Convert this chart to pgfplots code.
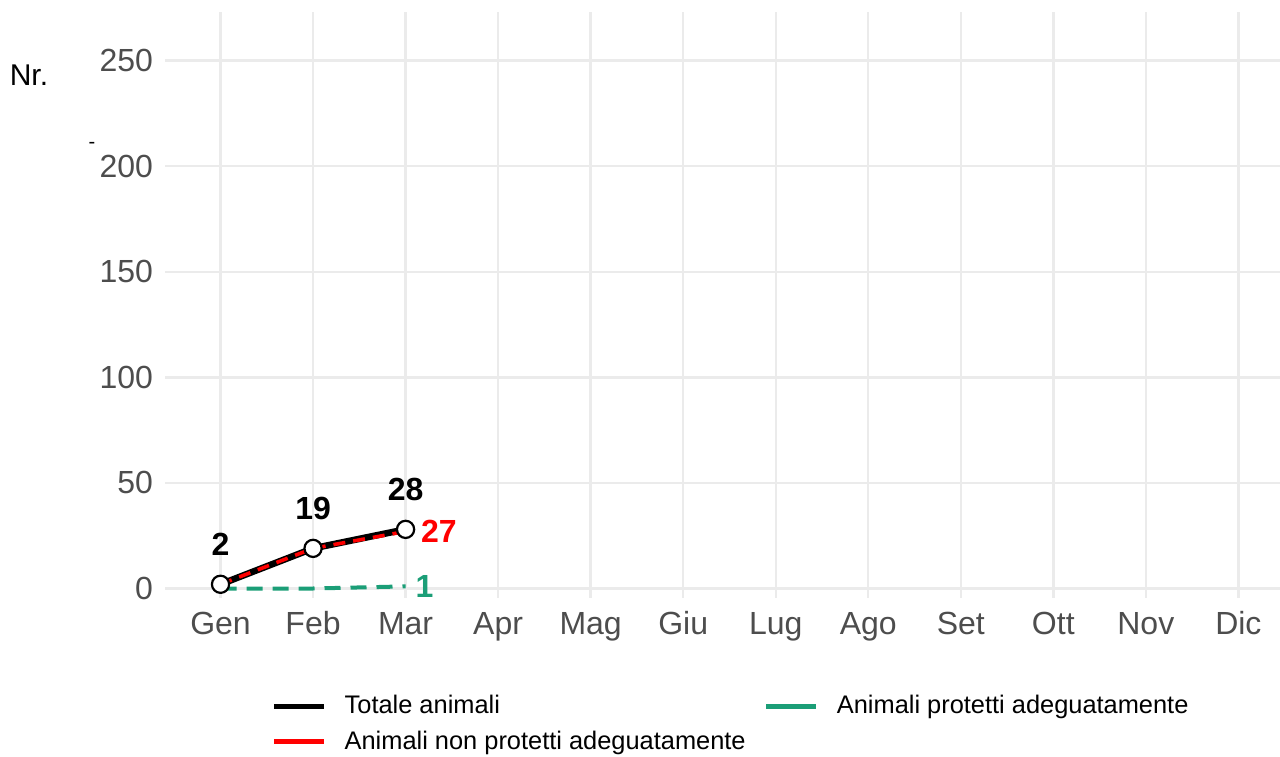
\documentclass[border=0pt]{standalone}
\usepackage{fontspec}
\setmainfont{Liberation Sans}
\usepackage{pgfplots}
\pgfplotsset{compat=1.18}
\definecolor{gridc}{HTML}{EBEBEB}
\definecolor{tickc}{HTML}{4D4D4D}
\definecolor{greenc}{HTML}{1B9E77}
\definecolor{redc}{HTML}{FF0000}
\begin{document}
\begin{tikzpicture}
\useasboundingbox (0,0) rectangle (640pt,378pt);
\begin{axis}[
  at={(82.5pt,79pt)}, anchor=south west,
  scale only axis, width=557.5pt, height=293pt,
  xmin=0.4, xmax=12.45, ymin=-4.5, ymax=273,
  xtick={1,...,12},
  xticklabels={Gen,Feb,Mar,Apr,Mag,Giu,Lug,Ago,Set,Ott,Nov,Dic},
  ytick={0,50,100,150,200,250},
  axis line style={draw=none}, major tick length=0pt,
  grid=major, grid style={gridc, line width=1.2pt},
  tick label style={font=\fontsize{16}{18}\selectfont, text=tickc},
  xticklabel style={text height=11.5pt, text depth=3pt, yshift=-3pt},
  yticklabel style={xshift=-2.5pt},
  /pgf/number format/assume math mode=true,
  legend columns=2,
  legend cell align=left,
  legend style={at={(0.5085,-0.152)}, anchor=north, draw=none, fill=none,
    font=\fontsize{12.7}{14}\selectfont, row sep=3pt,
    /tikz/every odd column/.append style={column sep=7pt},
    /tikz/every even column/.append style={column sep=7pt}},
  legend image code/.code={\draw[#1] (0pt,0pt) -- (25pt,0pt);},
  clip=false,
]
\addlegendimage{black, line width=2.6pt}
\addlegendentry{Totale animali}
\addlegendimage{greenc, line width=2.6pt}
\addlegendentry{Animali protetti adeguatamente}
\addlegendimage{redc, line width=2.6pt}
\addlegendentry{Animali non protetti adeguatamente}

% Animali protetti adeguatamente
\addplot[forget plot, greenc, line width=2pt, dash pattern=on 8pt off 5pt, mark=none]
  coordinates {(1,0) (2,0) (3,1)};
% Totale animali
\addplot[forget plot, black, line width=3.3pt, mark=none]
  coordinates {(1,2) (2,19) (3,28)};
% Animali non protetti adeguatamente
\addplot[forget plot, redc, line width=1.8pt, dash pattern=on 6pt off 4pt, mark=none]
  coordinates {(1,2) (2,19) (3,27)};
% markers + labels for total
\addplot[forget plot, only marks, mark=*, mark size=4.3pt,
  mark options={fill=white, draw=black, line width=1.1pt},
  nodes near coords, point meta=y,
  nodes near coords style={font=\bfseries\fontsize{16}{18}\selectfont, text=black, anchor=center, yshift=20pt}]
  coordinates {(1,2) (2,19) (3,28)};
% end labels
\addplot[forget plot, draw=none, mark=none, nodes near coords, point meta=y,
  nodes near coords style={font=\bfseries\fontsize{16}{18}\selectfont, text=redc, anchor=west, xshift=4.2pt}]
  coordinates {(3,27)};
\addplot[forget plot, draw=none, mark=none, nodes near coords, point meta=y,
  nodes near coords style={font=\bfseries\fontsize{16}{18}\selectfont, text=greenc, anchor=west, xshift=1.5pt}]
  coordinates {(3,1)};
\end{axis}
\node at (14.5pt,340.5pt) {\fontsize{15}{17}\selectfont Nr.};
\node at (46pt,305.5pt) {\fontsize{10}{12}\selectfont -};
\end{tikzpicture}
\end{document}
